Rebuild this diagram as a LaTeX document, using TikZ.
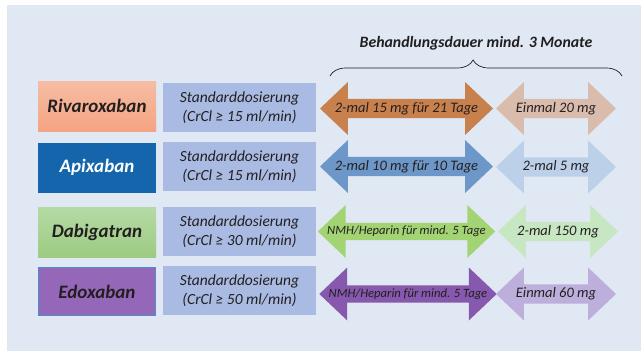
\documentclass[tikz,border=0pt]{standalone}
\usepackage{fontspec}
\setmainfont{Carlito}
\usetikzlibrary{decorations.pathreplacing,shapes.arrows}
\definecolor{bg}{HTML}{DFE8F3}
\definecolor{txt}{HTML}{231F20}
\definecolor{stdc}{HTML}{A9BBE3}
\definecolor{rivT}{HTML}{F6BDA4}
\definecolor{rivB}{HTML}{F4A482}
\definecolor{apix}{HTML}{1565AC}
\definecolor{dabT}{HTML}{B6DAA6}
\definecolor{dabB}{HTML}{9CCB82}
\definecolor{edox}{HTML}{9467B8}
\definecolor{edoxb}{HTML}{4B8FC7}
\definecolor{aOr}{HTML}{C8804D}
\definecolor{aOrL}{HTML}{D9BCAB}
\definecolor{aBl}{HTML}{6E97C9}
\definecolor{aBlL}{HTML}{BCD0EA}
\definecolor{aGr}{HTML}{A3D473}
\definecolor{aGrL}{HTML}{C7E6C2}
\definecolor{aPu}{HTML}{8658AE}
\definecolor{aPuL}{HTML}{BDAEDC}
\tikzset{
  drug/.style={minimum width=118pt,minimum height=50pt,inner sep=0pt,font=\fontsize{19}{21}\selectfont\bfseries\itshape,text=txt},
  stdbox/.style={fill=stdc,minimum width=153pt,minimum height=49pt,inner sep=0pt,align=center,font=\fontsize{15.5}{19}\selectfont\itshape,text=txt},
  darr/.style={double arrow,double arrow head extend=11.5pt,double arrow tip angle=87,minimum height=#1,minimum width=53pt,inner sep=0pt,text=txt,font=\fontsize{14.5}{16}\selectfont\itshape},
}
\begin{document}
\begin{tikzpicture}[x=1pt,y=-1pt]
\useasboundingbox (0,0) rectangle (641,351);
\fill[bg] (7,5) rectangle (641,351);
% title and brace
\node[font=\fontsize{15.8}{18}\selectfont\bfseries\itshape,text=txt] (title) at (476,43) {Behandlungsdauer mind. 3 Monate};
\draw[txt,line width=0.7pt,decorate,decoration={brace,amplitude=16pt,aspect=0.49}] (330,76) -- (622,76);
% row 1
\node[drug,top color=rivT,bottom color=rivB] (riv) at (97,106) {Rivaroxaban};
\node[stdbox] (s1) at (239.5,107.5) {Standarddosierung\\(CrCl ≥ 15 ml/min)};
\node[darr=173pt,fill=aOr] (a1) at (406.5,108.5) {2-mal 15 mg für 21 Tage};
\node[darr=120pt,fill=aOrL] (b1) at (556,108.5) {Einmal 20 mg};
% row 2
\node[drug,fill=apix,text=white] (api) at (97,167.5) {Apixaban};
\node[stdbox] (s2) at (239.5,166.5) {Standarddosierung\\(CrCl ≥ 15 ml/min)};
\node[darr=173pt,fill=aBl] (a2) at (406.5,166.5) {2-mal 10 mg für 10 Tage};
\node[darr=120pt,fill=aBlL] (b2) at (556,167) {2-mal 5 mg};
% row 3
\node[drug,top color=dabT,bottom color=dabB] (dab) at (97,232) {Dabigatran};
\node[stdbox] (s3) at (239.5,231.5) {Standarddosierung\\(CrCl ≥ 30 ml/min)};
\node[darr=173pt,fill=aGr,font=\fontsize{12.6}{14}\selectfont\itshape] (a3) at (406.5,231.5) {NMH/Heparin für mind. 5 Tage};
\node[darr=120pt,fill=aGrL] (b3) at (558,231.5) {2-mal 150 mg};
% row 4
\node[drug,fill=edox,draw=edoxb,line width=1.3pt,minimum width=116.5pt,minimum height=48.5pt] (edo) at (97,291.5) {Edoxaban};
\node[stdbox] (s4) at (239.5,290.5) {Standarddosierung\\(CrCl ≥ 50 ml/min)};
\node[darr=173pt,fill=aPu,font=\fontsize{12.6}{14}\selectfont\itshape] (a4) at (408,294) {NMH/Heparin für mind. 5 Tage};
\node[darr=120pt,fill=aPuL] (b4) at (556,294) {Einmal 60 mg};
\end{tikzpicture}
\end{document}
